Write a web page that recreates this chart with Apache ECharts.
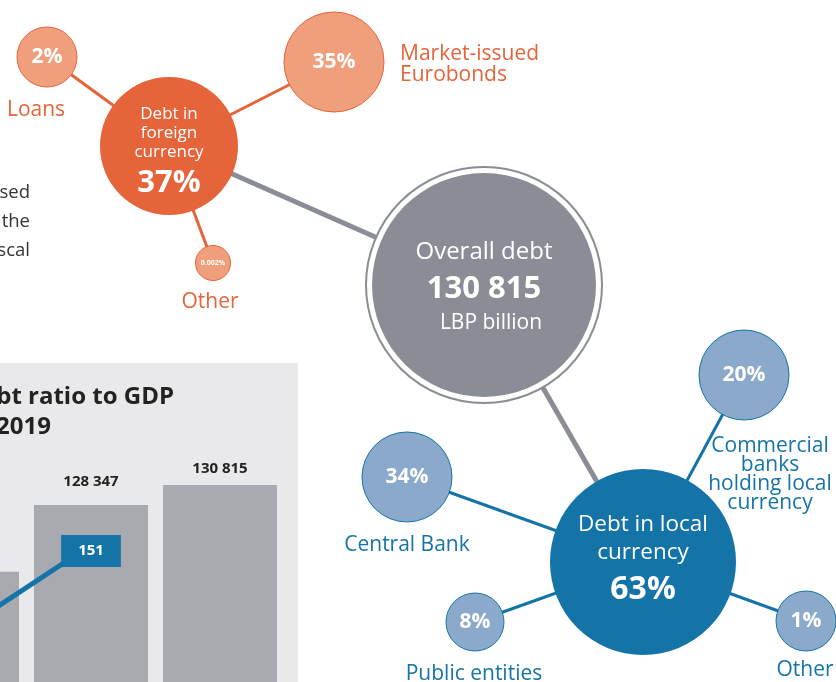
<!DOCTYPE html>
<html>
<head>
<meta charset="utf-8">
<script src="https://cdn.jsdelivr.net/npm/echarts@6/dist/echarts.min.js"></script>
<style>
  html, body { margin: 0; padding: 0; background: #fff; }
  #chart { width: 836px; height: 682px; }
</style>
</head>
<body>
<div id="chart"></div>
<script>
// ---- data ----
const overallDebt = 130815;              // LBP billion
const foreignShare = 37, localShare = 63; // %
const foreignNames = ['Loans', 'Market-issued\nEurobonds', 'Other'];
const foreignValues = [2, 35, 0.002];
const localNames = ['Central Bank', 'Commercial\nbanks\nholding local\ncurrency', 'Public entities', 'Other'];
const localValues = [34, 20, 8, 1];

const years = ['2017', '2018', '2019'];
const debtValues = [120100, 128347, 130815];
const ratioValues = [146, 151, null];

// ---- layout (pixels on the 836x682 page) ----
const pos = {
  overall: [484, 285], foreign: [169, 146], local: [643, 562],
  f0: [47, 57], f1: [334, 62], f2: [213, 263],
  l0: [407, 477], l1: [744, 375], l2: [475, 622], l3: [806, 621]
};
const size = { overall: 224, ring: 236, foreign: 138, local: 186,
  f0: 60, f1: 100, f2: 35, l0: 90, l1: 90, l2: 58, l3: 60 };
const nameAt = {
  f0: [36, 110], f1: [400, 65], f2: [210, 302],
  l0: [407, 545], l1: [770, 475], l2: [474, 674], l3: [805, 670]
};

const ORANGE = '#e5643a', ORANGE_L = '#f09f7d';
const BLUE = '#1474a7', BLUE_L = '#8ba9ca';
const GREY = '#8b8d96';
const FONT = '"Open Sans", "Noto Sans", sans-serif';

const fmt = v => String(v).replace(/\B(?=(\d{3})+(?!\d))/g, ' ');
const pct = v => (v < 1 ? v.toFixed(3) : v) + '%';

// ---- graph nodes ----
const nodes = [];
const links = [];
nodes.push({ id: 'ring', name: 'ring', value: pos.overall, symbolSize: size.ring,
  itemStyle: { color: '#fff', borderColor: GREY, borderWidth: 2 }, label: { show: false } });
nodes.push({ id: 'overall', name: 'Overall debt', value: pos.overall, symbolSize: size.overall,
  itemStyle: { color: GREY },
  label: { show: true, position: 'inside', offset: [0, 1],
    formatter: '{a|Overall debt}\n{b|' + fmt(overallDebt) + '}\n{c|LBP billion}',
    rich: {
      a: { color: '#fff', fontSize: 24, lineHeight: 36, fontFamily: FONT },
      b: { color: '#fff', fontSize: 31, fontWeight: 'bold', lineHeight: 38, fontFamily: FONT },
      c: { color: '#fff', fontSize: 21, lineHeight: 30, fontFamily: FONT, padding: [0, 0, 0, 14] }
    } } });
nodes.push({ id: 'foreign', name: 'Debt in foreign currency', value: pos.foreign, symbolSize: size.foreign,
  itemStyle: { color: ORANGE },
  label: { show: true, position: 'inside', offset: [0, 9], color: '#fff', fontSize: 17, lineHeight: 19,
    fontFamily: FONT, align: 'center',
    formatter: 'Debt in\nforeign\ncurrency\n{p|' + foreignShare + '%}',
    rich: { p: { color: '#fff', fontSize: 31, fontWeight: 'bold', lineHeight: 43, fontFamily: FONT } } } });
nodes.push({ id: 'local', name: 'Debt in local currency', value: pos.local, symbolSize: size.local,
  itemStyle: { color: BLUE },
  label: { show: true, position: 'inside', offset: [0, 0], color: '#fff', fontSize: 22.5, lineHeight: 28,
    fontFamily: FONT, align: 'center',
    formatter: 'Debt in local\ncurrency\n{p|' + localShare + '%}',
    rich: { p: { color: '#fff', fontSize: 32, fontWeight: 'bold', lineHeight: 46, fontFamily: FONT } } } });
links.push({ source: 'foreign', target: 'overall', lineStyle: { color: GREY, width: 5, opacity: 1 } });
links.push({ source: 'local', target: 'overall', lineStyle: { color: GREY, width: 5, opacity: 1 } });

const nameLabels = [];
function addLeaves(names, values, prefix, parent, fill, stroke) {
  names.forEach((n, i) => {
    const key = prefix + i;
    const tiny = values[i] < 1;
    nodes.push({ id: key, name: n, value: pos[key], symbolSize: size[key],
      itemStyle: { color: fill, borderColor: stroke, borderWidth: 1 },
      label: { show: true, position: 'inside', formatter: pct(values[i]), color: '#fff',
        fontSize: tiny ? 7 : 21, fontWeight: 'bold', fontFamily: FONT } });
    links.push({ source: parent, target: key, lineStyle: { color: stroke, width: 3, opacity: 1 } });
    const left = key === 'f1';
    nameLabels.push({ name: n, value: nameAt[key],
      label: { show: true, position: left ? 'right' : 'inside', distance: 0, formatter: '{b}',
        color: stroke, fontSize: 21, lineHeight: key === 'l1' ? 19 : 21, fontFamily: FONT,
        align: left ? 'left' : 'center' } });
  });
}
addLeaves(foreignNames, foreignValues, 'f', 'foreign', ORANGE_L, ORANGE);
addLeaves(localNames, localValues, 'l', 'local', BLUE_L, BLUE);

// ---- bars and ratio line ----
const barGap = [16, 16, 9];
const barData = debtValues.map((v, i) => ({ value: v,
  label: { show: true, position: 'top', distance: barGap[i] } }));
const lineData = ratioValues.map((v, i) => i === 1 ? { value: v,
  label: { show: true, position: 'inside', offset: [0, 6], formatter: '{c}', color: '#fff',
    fontSize: 15, fontWeight: 'bold', fontFamily: FONT, backgroundColor: BLUE, padding: [9, 17, 8, 17] } }
  : v);

const chart = echarts.init(document.getElementById('chart'));
chart.setOption({
  animation: false,
  textStyle: { fontFamily: FONT },
  graphic: [
    { type: 'rect', z: -1, shape: { x: 0, y: 363, width: 298, height: 319 }, style: { fill: '#e9e9eb' } },
    { type: 'text', x: 174, y: 397, style: { text: 'Debt ratio to GDP', align: 'right', verticalAlign: 'middle',
      fontSize: 24, fontWeight: 'bold', fontFamily: FONT, fill: '#222' } },
    { type: 'text', x: 51, y: 427, style: { text: '2017–2019', align: 'right', verticalAlign: 'middle',
      fontSize: 24, fontWeight: 'bold', fontFamily: FONT, fill: '#222' } },
    { type: 'text', x: 30, y: 193, style: { text: 'used', align: 'right', verticalAlign: 'middle',
      fontSize: 18.5, fontFamily: FONT, fill: '#333' } },
    { type: 'text', x: 30, y: 222, style: { text: 'the', align: 'right', verticalAlign: 'middle',
      fontSize: 18.5, fontFamily: FONT, fill: '#333' } },
    { type: 'text', x: 30, y: 251, style: { text: 'fiscal', align: 'right', verticalAlign: 'middle',
      fontSize: 18.5, fontFamily: FONT, fill: '#333' } }
  ],
  grid: [
    { left: 0, top: 0, width: 836, height: 682, outerBoundsMode: 'none' },
    { left: -102.5, width: 387, top: 410.6, height: 324.1, outerBoundsMode: 'none' },
    { left: -102.5, width: 387, top: 392, height: 340, outerBoundsMode: 'none' }
  ],
  xAxis: [
    { gridIndex: 0, type: 'value', min: 0, max: 836, show: false },
    { gridIndex: 1, type: 'category', data: years, show: false },
    { gridIndex: 2, type: 'category', data: years, show: false }
  ],
  yAxis: [
    { gridIndex: 0, type: 'value', min: 0, max: 682, inverse: true, show: false },
    { gridIndex: 1, type: 'value', min: 100000, max: 140000, show: false },
    { gridIndex: 2, type: 'value', min: 140, max: 160, show: false }
  ],
  series: [
    {
      type: 'bar', xAxisIndex: 1, yAxisIndex: 1, data: barData, barWidth: 114,
      itemStyle: { color: '#a9aaaf' },
      label: { formatter: p => fmt(p.value), color: '#222', fontSize: 15, fontWeight: 'bold', fontFamily: FONT }
    },
    {
      type: 'line', xAxisIndex: 2, yAxisIndex: 2, data: lineData, symbol: 'circle', symbolSize: 1,
      lineStyle: { color: BLUE, width: 5 }, itemStyle: { color: BLUE }, label: { show: false }
    },
    {
      type: 'graph', coordinateSystem: 'cartesian2d', xAxisIndex: 0, yAxisIndex: 0,
      data: nodes, links: links, silent: true
    },
    {
      type: 'scatter', xAxisIndex: 0, yAxisIndex: 0, symbolSize: 0, data: nameLabels, silent: true,
      itemStyle: { opacity: 1 }
    }
  ]
});
</script>
</body>
</html>
